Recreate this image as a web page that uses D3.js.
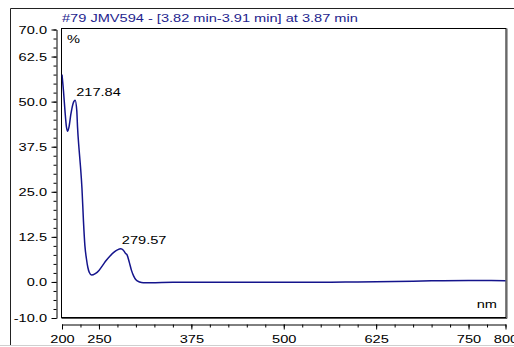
<!DOCTYPE html>
<html>
<head>
<meta charset="utf-8">
<script src="https://cdn.jsdelivr.net/npm/d3@7"></script>
<style>
  html, body { margin: 0; padding: 0; background: #fff; }
  svg { display: block; }
  text { font-family: "Liberation Sans", Arial, sans-serif; }
</style>
</head>
<body>
<svg id="chart" width="514" height="347"></svg>
<script>
// ---- data ----
const wavelengths = [200,202,204,206,207.7,209.5,212,215,217.8,220,221,223,225,227,229,231,233,235,237,240,245,250,255,260,265,270,275,279.6,283,286,288,291,294,297,300,305,310,320,350,400,450,500,550,600,650,700,750,800];
const absorbance  = [57.5,53,47.5,43,41.8,43,46.5,49.5,50.4,47.5,43,37,32,26,17,10,6.5,4,2.6,1.9,2.3,3.2,4.6,6.0,7.2,8.2,8.9,9.2,8.8,7.9,7.5,5.5,3.2,1.6,0.6,0.0,-0.2,-0.2,-0.1,-0.1,-0.1,-0.1,-0.1,0.0,0.1,0.3,0.4,0.35];
const yMajorTicks = [70, 62.5, 50, 37.5, 25, 12.5, 0, -10];
const xMajorTicks = [200, 250, 375, 500, 625, 750, 800];
const peakLabels = ["217.84", "279.57"];
const peakX = [217.84, 279.57];
const peakY = [50.4, 9.2];
const titleText = "#79 JMV594 - [3.82 min-3.91 min] at 3.87 min";

// ---- layout ----
const svg = d3.select("#chart");
const SX = 1.27, FS = 11.5;
const x = d3.scaleLinear().domain([200, 800]).range([62, 505.5]);
const y = d3.scaleLinear().domain([-10, 70]).range([318, 29.5]);

// outer frame
svg.append("line").attr("x1", 10.5).attr("x2", 514).attr("y1", 8.5).attr("y2", 8.5).attr("stroke", "#222");
svg.append("line").attr("x1", 10.5).attr("x2", 10.5).attr("y1", 8.5).attr("y2", 345).attr("stroke", "#222");
svg.append("line").attr("x1", 0).attr("x2", 514).attr("y1", 345.5).attr("y2", 345.5).attr("stroke", "#cfcfcf");

function stext(g, str, tx, ty, anchor, color) {
  return g.append("text").text(str)
    .attr("transform", `translate(${tx},${ty}) scale(${SX},1)`)
    .attr("text-anchor", anchor || "start")
    .attr("font-size", FS)
    .attr("fill", color || "#000");
}

// title
stext(svg, titleText, 62, 22, "start", "#1e1e8e");

// plot box
const bx0 = 61.5, bx1 = 506, by0 = 28.5, by1 = 317.5;
svg.append("rect").attr("x", bx0).attr("y", by0).attr("width", bx1 - bx0).attr("height", by1 - by0)
  .attr("fill", "none").attr("stroke", "#000").attr("stroke-width", 1);
svg.append("line").attr("x1", bx0).attr("x2", bx1 + 1).attr("y1", by1 + 1).attr("y2", by1 + 1).attr("stroke", "#555");
svg.append("line").attr("x1", bx1 + 1).attr("x2", bx1 + 1).attr("y1", by0).attr("y2", by1 + 1).attr("stroke", "#555");

// y axis
const yMinor = d3.range(-10, 70.001, 2.5);
svg.append("g").attr("transform", "translate(56.5,0)")
  .call(d3.axisLeft(y).tickValues(yMinor).tickSize(3).tickSizeOuter(0).tickFormat(""))
  .call(g => g.selectAll("line,path").attr("stroke", "#000"));
const yAx = svg.append("g").attr("transform", "translate(56.5,0)")
  .call(d3.axisLeft(y).tickValues(yMajorTicks).tickSize(5).tickSizeOuter(0).tickPadding(4)
    .tickFormat(d => d.toFixed(1)));
yAx.select(".domain").remove();
yAx.selectAll("line").attr("stroke", "#000");
yAx.selectAll("text").attr("x", 0).attr("transform", `translate(-9.5,0) scale(${SX},1)`)
  .attr("font-size", FS).attr("font-family", "Liberation Sans, Arial, sans-serif").attr("fill", "#000");

// x axis
const xMinor = d3.range(200, 800.001, 25);
svg.append("g").attr("transform", "translate(0,324.5)")
  .call(d3.axisBottom(x).tickValues(xMinor).tickSize(3).tickSizeOuter(0).tickFormat(""))
  .call(g => g.selectAll("line,path").attr("stroke", "#000"));
const xAx = svg.append("g").attr("transform", "translate(0,324.5)")
  .call(d3.axisBottom(x).tickValues(xMajorTicks).tickSize(5).tickSizeOuter(0).tickPadding(5)
    .tickFormat(d => String(d)));
xAx.select(".domain").remove();
xAx.selectAll("line").attr("stroke", "#000");
xAx.selectAll("text").each(function() {
  const t = d3.select(this);
  const yy = +t.attr("y");
  t.attr("y", null).attr("dy", "0.71em").attr("transform", `translate(0,${yy}) scale(${SX},1)`);
}).attr("font-size", FS).attr("font-family", "Liberation Sans, Arial, sans-serif").attr("fill", "#000");

// axis unit labels
stext(svg, "%", 67, 43, "start");
stext(svg, "nm", 497, 308, "end");

// curve
const pts = wavelengths.map((w, i) => [w, absorbance[i]]);
const clip = svg.append("clipPath").attr("id", "clipbox").append("rect")
  .attr("x", bx0).attr("y", by0).attr("width", bx1 - bx0).attr("height", by1 - by0);
svg.append("path").datum(pts)
  .attr("clip-path", "url(#clipbox)")
  .attr("fill", "none").attr("stroke", "#14148c").attr("stroke-width", 1.5)
  .attr("d", d3.line().x(d => x(d[0])).y(d => y(d[1])).curve(d3.curveMonotoneX));

// peak labels
peakLabels.forEach((lab, i) => {
  stext(svg, lab, x(peakX[i]) + 1, y(peakY[i]) - 4.5, "start");
});
</script>
</body>
</html>
